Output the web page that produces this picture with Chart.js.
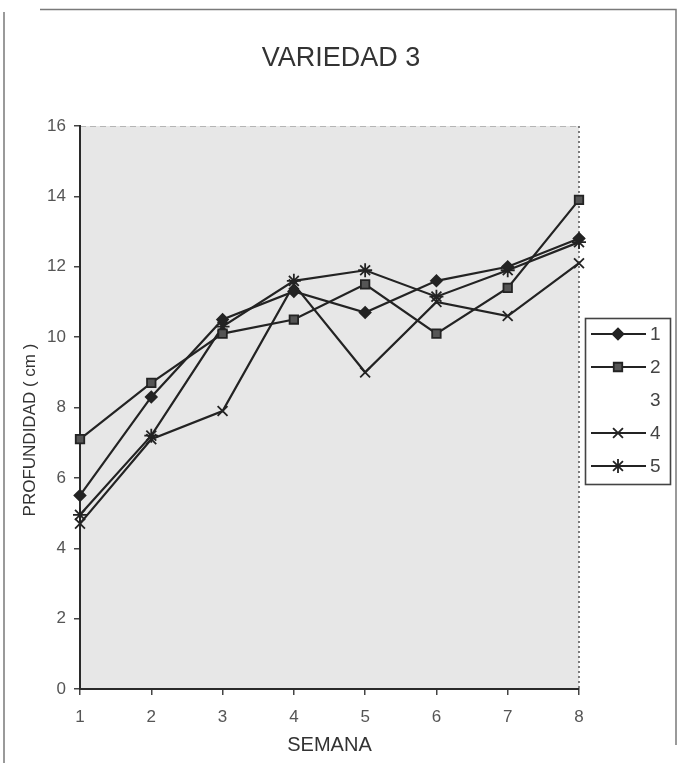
<!DOCTYPE html>
<html>
<head>
<meta charset="utf-8">
<script src="https://cdn.jsdelivr.net/npm/chart.js@4.4.0/dist/chart.umd.min.js"></script>
<style>
  html, body { margin: 0; padding: 0; background: #fff; }
  #wrap { width: 680px; height: 763px; }
</style>
</head>
<body>
<div id="wrap"><canvas id="c" width="680" height="763"></canvas></div>
<script>
// Semanas de medición y profundidad (cm) por serie
const semanas = ['1', '2', '3', '4', '5', '6', '7', '8'];
const serie1 = [5.5, 8.3, 10.5, 11.3, 10.7, 11.6, 12.0, 12.8];
const serie2 = [7.1, 8.7, 10.1, 10.5, 11.5, 10.1, 11.4, 13.9];
const serie3 = [null, null, null, null, null, null, null, null];
const serie4 = [4.7, 7.1, 7.9, 11.5, 9.0, 11.0, 10.6, 12.1];
const serie5 = [4.95, 7.2, 10.3, 11.6, 11.9, 11.15, 11.9, 12.7];
const nombres = ['1', '2', '3', '4', '5'];
const titulo = 'VARIEDAD 3';
const tituloX = 'SEMANA';
const tituloY = 'PROFUNDIDAD ( cm )';
const yMin = 0, yMax = 16, yPaso = 2;

const FONT = "'Liberation Sans', Arial, Helvetica, sans-serif";
const INK = '#232323';

function serie(label, data, style, radius, fill) {
  return {
    label, data,
    borderColor: INK, borderWidth: 2.2,
    pointStyle: style, pointRadius: radius, pointHoverRadius: radius,
    pointBackgroundColor: fill, pointBorderColor: INK, pointBorderWidth: 1.8,
    tension: 0, clip: false, spanGaps: false
  };
}

const datasets = [
  serie(nombres[0], serie1, 'rectRot', 5.5, INK),
  serie(nombres[1], serie2, 'rect', 6, '#555'),
  Object.assign(serie(nombres[2], serie3, false, 0, 'transparent'), { borderColor: 'transparent', borderWidth: 0 }),
  serie(nombres[3], serie4, 'crossRot', 7, INK),
  serie(nombres[4], serie5, 'star', 7, INK)
];

// Marco exterior, fondo gris del área de trazado, sus bordes y textos
const marco = {
  id: 'marco',
  beforeDraw(chart) {
    const { ctx, chartArea: a, width, height } = chart;
    ctx.save();
    ctx.fillStyle = '#fff';
    ctx.fillRect(0, 0, width, height);
    ctx.strokeStyle = '#7a7a7a';
    ctx.lineWidth = 1.5;
    ctx.beginPath();
    ctx.moveTo(4, height); ctx.lineTo(4, 12);
    ctx.moveTo(40, 9.5); ctx.lineTo(676, 9.5); ctx.lineTo(676, 745);
    ctx.stroke();
    ctx.fillStyle = '#e7e7e7';
    ctx.fillRect(a.left, a.top, a.right - a.left, a.bottom - a.top);
    ctx.strokeStyle = '#b5b5b5';
    ctx.lineWidth = 1;
    ctx.setLineDash([6, 4]);
    ctx.beginPath();
    ctx.moveTo(a.left, a.top + 0.5); ctx.lineTo(a.right, a.top + 0.5);
    ctx.stroke();
    ctx.strokeStyle = '#555';
    ctx.lineWidth = 1.5;
    ctx.setLineDash([2, 3]);
    ctx.beginPath();
    ctx.moveTo(a.right, a.top); ctx.lineTo(a.right, a.bottom);
    ctx.stroke();
    ctx.setLineDash([]);

    // título principal
    ctx.fillStyle = '#333';
    ctx.textAlign = 'center';
    ctx.textBaseline = 'middle';
    ctx.font = '27px ' + FONT;
    ctx.fillText(titulo, 341, 59);

    // título del eje vertical
    ctx.font = '17px ' + FONT;
    ctx.translate(30, 430);
    ctx.rotate(-Math.PI / 2);
    ctx.fillText(tituloY, 0, 0);
    ctx.restore();
  }
};

// Leyenda con línea y marcador de cada serie
const leyenda = {
  id: 'leyenda',
  afterDraw(chart) {
    const ctx = chart.ctx;
    const bx = 585, by = 318, bw = 85, bh = 166;
    ctx.save();
    ctx.fillStyle = '#fff';
    ctx.fillRect(bx, by, bw, bh);
    ctx.strokeStyle = '#444';
    ctx.lineWidth = 1.6;
    ctx.strokeRect(bx + 0.5, by + 0.5, bw, bh);
    ctx.font = '19px ' + FONT;
    ctx.textBaseline = 'middle';
    ctx.textAlign = 'left';
    chart.data.datasets.forEach((ds, i) => {
      const y = by + 16 + i * 33;
      if (ds.borderWidth > 0) {
        ctx.strokeStyle = ds.borderColor;
        ctx.lineWidth = 2;
        ctx.beginPath();
        ctx.moveTo(bx + 6, y); ctx.lineTo(bx + 61, y);
        ctx.stroke();
      }
      if (ds.pointRadius > 0) {
        ctx.fillStyle = ds.pointBackgroundColor;
        ctx.strokeStyle = ds.pointBorderColor;
        ctx.lineWidth = ds.pointBorderWidth;
        Chart.helpers.drawPoint(ctx, { pointStyle: ds.pointStyle, radius: ds.pointRadius, borderWidth: ds.pointBorderWidth, rotation: 0 }, bx + 33, y);
      }
      ctx.fillStyle = '#444';
      ctx.fillText(ds.label, bx + 65, y + 1);
    });
    ctx.restore();
  }
};

new Chart(document.getElementById('c'), {
  type: 'line',
  data: { labels: semanas, datasets },
  plugins: [marco, leyenda],
  options: {
    responsive: false,
    animation: false,
    devicePixelRatio: 1,
    layout: { padding: { top: 126, right: 101, bottom: 0, left: 0 } },
    plugins: {
      legend: { display: false },
      tooltip: { enabled: false },
      title: { display: false }
    },
    scales: {
      x: {
        type: 'category',
        offset: false,
        ticks: { color: '#555', font: { family: FONT, size: 17 }, padding: 12, maxRotation: 0 },
        grid: { drawOnChartArea: false, drawTicks: true, tickLength: 6, color: '#444', lineWidth: 1.5 },
        border: { display: true, color: '#2a2a2a', width: 2 },
        title: {
          display: true, text: tituloX, color: '#333',
          font: { family: FONT, size: 20 }, padding: { top: 0, bottom: 6 }
        },
        afterFit(s) { s.height = 74; }
      },
      y: {
        min: yMin, max: yMax,
        ticks: { stepSize: yPaso, color: '#555', font: { family: FONT, size: 17 }, padding: 8 },
        grid: { drawOnChartArea: false, drawTicks: true, tickLength: 6, color: '#444', lineWidth: 1.5 },
        border: { display: true, color: '#2a2a2a', width: 2 },
        afterFit(s) { s.width = 80; }
      }
    }
  }
});
</script>
</body>
</html>
